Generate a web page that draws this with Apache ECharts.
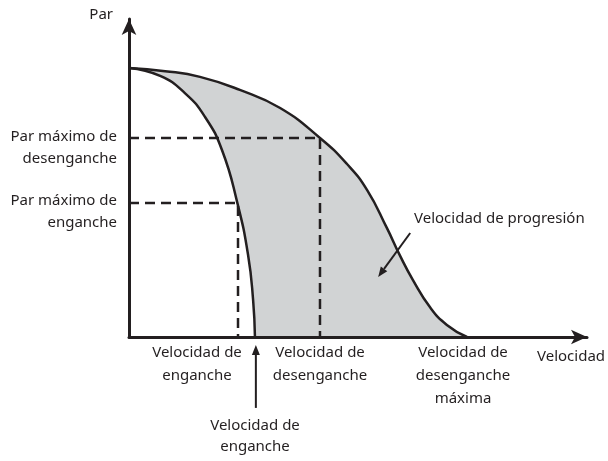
<!DOCTYPE html>
<html>
<head>
<meta charset="utf-8">
<title>Par - Velocidad</title>
<script src="https://cdn.jsdelivr.net/npm/echarts@6/dist/echarts.min.js"></script>
<style>
  html, body { margin: 0; padding: 0; background: #fff; }
  #main { width: 608px; height: 461px; }
</style>
</head>
<body>
<div id="main"></div>
<script>
// curva de desenganche: velocidad / par (escala 0-100)
var desengancheX = [0, 7.9, 15.5, 24.2, 33.0, 41.7, 47.6, 52.0, 56.3, 59.2, 62.0, 65.7, 69.4, 73.8];
var desengancheY = [84.6, 83.6, 81.8, 77.7, 72.0, 62.6, 54.4, 46.2, 34.3, 25.5, 17.9, 9.4, 3.8, 0];
// curva de enganche
var engancheX = [0, 6.8, 12.2, 16.6, 20.3, 23.6, 26.0, 27.1, 27.5];
var engancheY = [84.6, 82.1, 76.7, 69.2, 58.8, 42.5, 25.8, 11.6, 0];
// puntos de par maximo
var parMaxDesenganche = 62.6, velDesenganche = 41.7;
var parMaxEnganche = 42.1, velEnganche = 23.8;
// flechas: [x1, y1, x2, y2]
var flechas = [[61.4, 32.7, 54.4, 18.9], [27.7, -22.3, 27.7, -2.5]];

// textos
var nombreEjeY = 'Par';
var nombreEjeX = 'Velocidad';
var yLabels = ['Par máximo de\ndesenganche', 'Par máximo de\nenganche'];
var xLabels = ['Velocidad de\nenganche', 'Velocidad de\ndesenganche', 'Velocidad de\ndesenganche\nmáxima'];
var notaEnganche = 'Velocidad de\nenganche';
var notaProgresion = 'Velocidad de progresión';

var negro = '#231f20';
var gris = '#d1d3d4';
var fuente = '15px "Noto Sans"';

function pares(xs, ys) {
  return xs.map(function (x, i) { return [x, ys[i]]; });
}

var chartDom = document.getElementById('main');
var myChart = echarts.init(chartDom);

function eje() {
  return {
    type: 'value',
    min: 0,
    max: 100,
    z: 10,
    axisLine: {
      show: true,
      symbol: ['none', 'arrow'],
      symbolSize: [11, 16],
      lineStyle: { color: negro, width: 3 }
    },
    axisTick: { show: false },
    axisLabel: { show: false },
    splitLine: { show: false }
  };
}

function texto(t, x, y, align, lh) {
  return {
    type: 'text',
    x: x,
    y: y,
    style: {
      text: t,
      font: fuente,
      fill: negro,
      align: align,
      textAlign: align,
      verticalAlign: 'top',
      textVerticalAlign: 'top',
      lineHeight: lh || 23
    }
  };
}

function curva(xs, ys, extra) {
  return Object.assign({
    type: 'line',
    data: pares(xs, ys),
    smooth: 0.5,
    symbol: 'none'
  }, extra);
}

var option = {
  animation: false,
  grid: { left: 129, right: 21, top: 19, bottom: 124 },
  xAxis: eje(),
  yAxis: eje(),
  series: [
    curva(desengancheX, desengancheY, {
      lineStyle: { width: 0 },
      areaStyle: { color: gris, opacity: 1 },
      z: 1
    }),
    curva(engancheX, engancheY, {
      lineStyle: { width: 0 },
      areaStyle: { color: '#fff', opacity: 1 },
      z: 2
    }),
    {
      type: 'line',
      data: [[0, parMaxDesenganche], [velDesenganche, parMaxDesenganche], [velDesenganche, 0]],
      symbol: 'none',
      lineStyle: { color: negro, width: 2.5, type: [10, 6] },
      z: 4
    },
    {
      type: 'line',
      data: [[0, parMaxEnganche], [velEnganche, parMaxEnganche], [velEnganche, 0]],
      symbol: 'none',
      lineStyle: { color: negro, width: 2.5, type: [10, 6] },
      z: 4
    },
    curva(desengancheX, desengancheY, { lineStyle: { color: negro, width: 2.5 }, z: 5 }),
    curva(engancheX, engancheY, { lineStyle: { color: negro, width: 2.5 }, z: 5 }),
    {
      type: 'custom',
      data: flechas,
      encode: { x: [0, 2], y: [1, 3] },
      clip: false,
      z: 6,
      renderItem: function (params, api) {
        var a = api.coord([api.value(0), api.value(1)]);
        var b = api.coord([api.value(2), api.value(3)]);
        var dx = b[0] - a[0], dy = b[1] - a[1];
        var len = Math.sqrt(dx * dx + dy * dy);
        var ux = dx / len, uy = dy / len;
        var head = 10, half = 4;
        var base = [b[0] - ux * head, b[1] - uy * head];
        return {
          type: 'group',
          children: [
            {
              type: 'line',
              shape: { x1: a[0], y1: a[1], x2: base[0], y2: base[1] },
              style: { stroke: negro, lineWidth: 2 }
            },
            {
              type: 'polygon',
              shape: {
                points: [b, [base[0] - uy * half, base[1] + ux * half], [base[0] + uy * half, base[1] - ux * half]]
              },
              style: { fill: negro }
            }
          ]
        };
      }
    }
  ],
  graphic: [
    texto(nombreEjeY, 113, 3, 'right'),
    texto(yLabels[0], 117, 126, 'right', 22),
    texto(yLabels[1], 117, 190, 'right', 22),
    texto(xLabels[0], 197, 341, 'center'),
    texto(xLabels[1], 320, 341, 'center'),
    texto(xLabels[2], 463, 341, 'center'),
    texto(nombreEjeX, 537, 345, 'left'),
    texto(notaEnganche, 255, 415, 'center', 21),
    texto(notaProgresion, 414, 207, 'left')
  ]
};

option && myChart.setOption(option);
</script>
</body>
</html>
